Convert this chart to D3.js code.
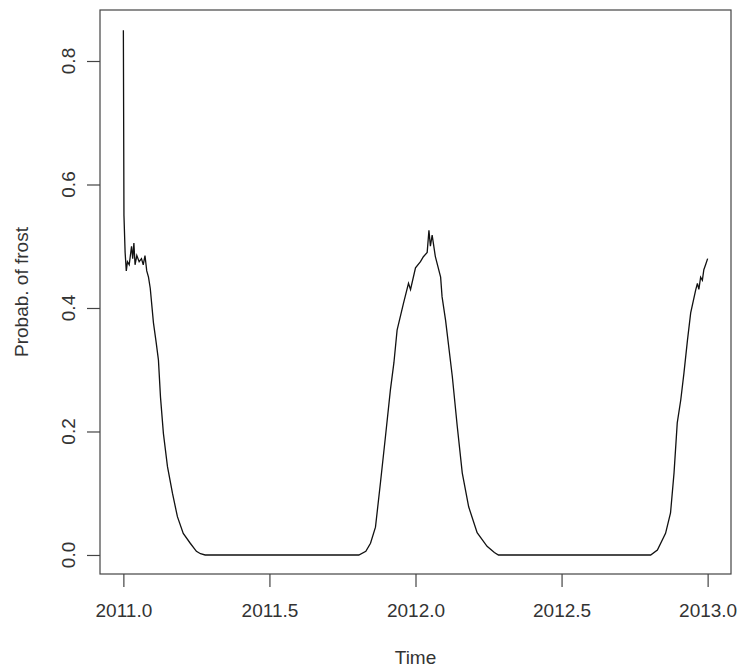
<!DOCTYPE html>
<html>
<head>
<meta charset="utf-8">
<script src="https://cdn.jsdelivr.net/npm/d3@7"></script>
<style>
  body { margin: 0; background: #fff; }
  text { font-family: "Liberation Sans", Arial, sans-serif; fill: #333; }
</style>
</head>
<body>
<div id="chart"></div>
<script>
// probability of frost (time in decimal years)
var times = [
  2011.000, 2011.002, 2011.006, 2011.010, 2011.014, 2011.020, 2011.028, 2011.032,
  2011.036, 2011.040, 2011.046, 2011.054, 2011.062, 2011.068, 2011.074, 2011.080,
  2011.086, 2011.092, 2011.103, 2011.112, 2011.120, 2011.127, 2011.137, 2011.151,
  2011.168, 2011.185, 2011.205, 2011.229, 2011.250, 2011.264, 2011.280,
  2011.806, 2011.830, 2011.846, 2011.863, 2011.880, 2011.897, 2011.914, 2011.926,
  2011.937, 2011.959, 2011.976, 2011.983, 2012.000, 2012.017, 2012.027, 2012.040,
  2012.046, 2012.051, 2012.057, 2012.068, 2012.086, 2012.091, 2012.103, 2012.126,
  2012.143, 2012.160, 2012.182, 2012.211, 2012.245, 2012.270, 2012.284,
  2012.805, 2012.828, 2012.856, 2012.873, 2012.885, 2012.896, 2012.908, 2012.919,
  2012.931, 2012.942, 2012.959, 2012.965, 2012.970, 2012.976, 2012.982, 2012.987,
  2012.993, 2013.000
];
var probs = [
  0.850, 0.550, 0.490, 0.460, 0.475, 0.470, 0.500, 0.480,
  0.505, 0.470, 0.485, 0.475, 0.480, 0.470, 0.485, 0.460,
  0.450, 0.432, 0.376, 0.345, 0.316, 0.256, 0.197, 0.143,
  0.100, 0.062, 0.035, 0.019, 0.006, 0.002, 0.000,
  0.000, 0.006, 0.019, 0.045, 0.117, 0.191, 0.267, 0.311,
  0.364, 0.408, 0.440, 0.430, 0.465, 0.475, 0.483, 0.490,
  0.526, 0.500, 0.518, 0.483, 0.450, 0.418, 0.380, 0.289,
  0.208, 0.133, 0.078, 0.036, 0.014, 0.004, 0.000,
  0.000, 0.008, 0.035, 0.068, 0.133, 0.214, 0.251, 0.295,
  0.348, 0.392, 0.429, 0.440, 0.430, 0.450, 0.445, 0.462,
  0.470, 0.480
];
var xTicks = [2011.0, 2011.5, 2012.0, 2012.5, 2013.0];
var yTicks = [0.0, 0.2, 0.4, 0.6, 0.8];

var W = 740, H = 670;
var box = {left: 100, right: 731, top: 10, bottom: 574};

var svg = d3.select("#chart").append("svg")
    .attr("width", W)
    .attr("height", H);

var x = d3.scaleLinear()
    .domain([2010.92, 2013.08])
    .range([box.left, box.right]);

var y = d3.scaleLinear()
    .domain([-0.0308, 0.8826])
    .range([box.bottom, box.top]);

var data = times.map(function(t, i) { return {t: t, p: probs[i]}; });

// the series
svg.append("path")
    .datum(data)
    .attr("fill", "none")
    .attr("stroke", "#111")
    .attr("stroke-width", 1.3)
    .attr("d", d3.line()
      .x(function(d) { return x(d.t); })
      .y(function(d) { return y(d.p); }));

// box round the plot
svg.append("rect")
    .attr("x", box.left)
    .attr("y", box.top)
    .attr("width", box.right - box.left)
    .attr("height", box.bottom - box.top)
    .attr("fill", "none")
    .attr("stroke", "#444")
    .attr("stroke-width", 1.2);

// x axis
var gx = svg.append("g")
    .attr("transform", "translate(0," + box.bottom + ")")
    .call(d3.axisBottom(x)
      .tickValues(xTicks)
      .tickFormat(d3.format(".1f"))
      .tickSize(13)
      .tickPadding(17));
gx.select(".domain").remove();
gx.selectAll("line").attr("stroke", "#444").attr("stroke-width", 1.2);
gx.selectAll("text").style("font-size", "19px").attr("fill", "#333");

// y axis, labels turned like R does
var gy = svg.append("g")
    .attr("transform", "translate(" + box.left + ",0)")
    .call(d3.axisLeft(y)
      .tickValues(yTicks)
      .tickFormat("")
      .tickSize(13));
gy.select(".domain").remove();
gy.selectAll("line").attr("stroke", "#444").attr("stroke-width", 1.2);

svg.append("g").selectAll("text")
    .data(yTicks)
    .enter().append("text")
    .attr("transform", function(d) { return "translate(75," + y(d) + ") rotate(-90)"; })
    .attr("text-anchor", "middle")
    .style("font-size", "19px")
    .text(d3.format(".1f"));

// axis titles
svg.append("text")
    .attr("x", (box.left + box.right) / 2)
    .attr("y", 664)
    .attr("text-anchor", "middle")
    .style("font-size", "19px")
    .text("Time");

svg.append("text")
    .attr("transform", "translate(28," + ((box.top + box.bottom) / 2) + ") rotate(-90)")
    .attr("text-anchor", "middle")
    .style("font-size", "19px")
    .text("Probab. of frost");
</script>
</body>
</html>
